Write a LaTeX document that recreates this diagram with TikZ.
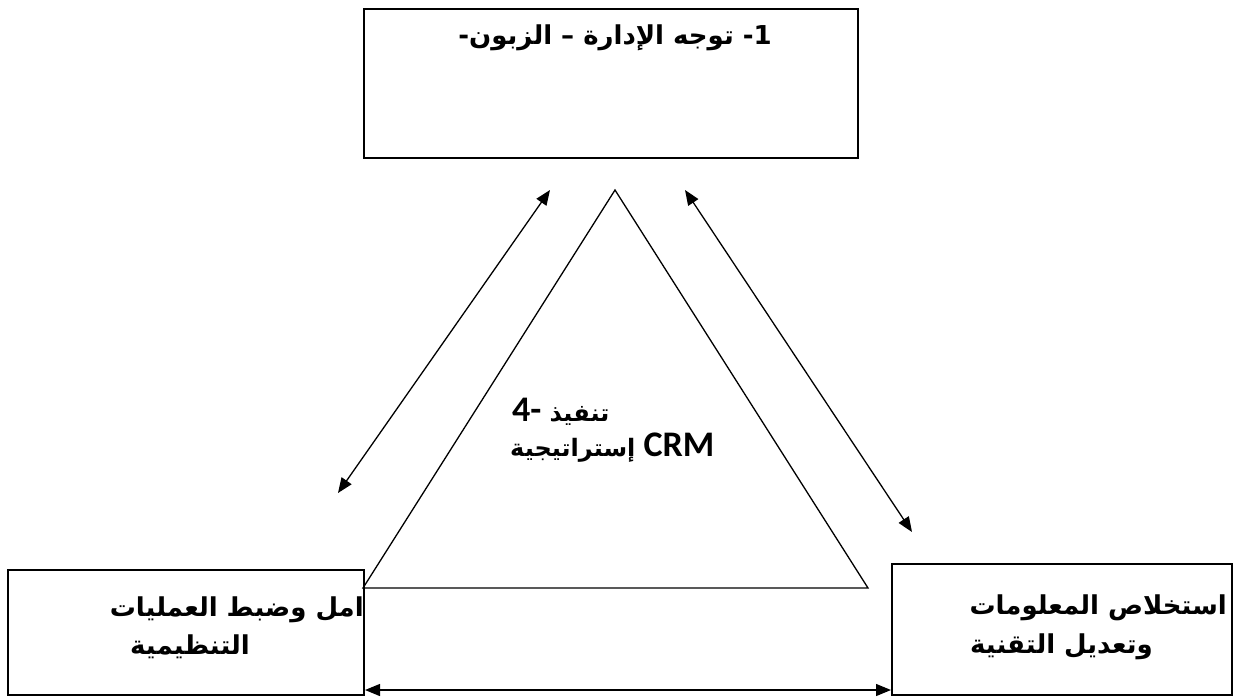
\documentclass[tikz,border=0pt]{standalone}
\usepackage{fontspec}
\usetikzlibrary{arrows.meta}
\TeXXeTstate=1
\newfontfamily\arfont[Script=Arabic]{DejaVu Sans}
\newfontfamily\carl{Carlito}
\newcommand{\arbig}{\arfont\bfseries\fontsize{26}{30}\selectfont}
\newcommand{\armid}{\arfont\bfseries\fontsize{24}{28}\selectfont}
\begin{document}
\begin{tikzpicture}[x=1pt,y=-1pt,
  box/.style={draw, line width=2pt, inner sep=0pt, anchor=north west},
  link/.style={line width=1.3pt, {Triangle[length=15pt,width=12pt]}-{Triangle[length=15pt,width=12pt]}},
  tri/.style={line width=1.3pt, line join=miter},
  lbl/.style={font=\arbig, inner sep=0pt},
  clbl/.style={font=\carl\bfseries\fontsize{36}{40}\selectfont, inner sep=0pt}]
\useasboundingbox (0,0) rectangle (1236,697);
% boxes
\node[box, minimum width=494pt, minimum height=149pt] (top) at (363,8) {};
\node[box, minimum width=356pt, minimum height=125pt] (lbox) at (7,569) {};
\node[box, minimum width=340pt, minimum height=131pt] (rbox) at (891,563) {};
% triangle
\coordinate (apex) at (615,190);
\coordinate (tl) at (363,588);
\coordinate (tr) at (868,588);
\draw[tri] (apex) -- (tl) -- (tr) -- cycle;
% arrows
\coordinate (a1) at (550,190);
\coordinate (a2) at (338,493);
\coordinate (b1) at (685,190);
\coordinate (b2) at (912,532);
\coordinate (ya) at (0,690);
\draw[link] (a1) -- (a2);
\draw[link] (b1) -- (b2);
\draw[link] (lbox.east |- ya) -- (rbox.west |- ya);
% texts
\node[lbl] (ttop) at (615,38) {\beginR 1\kern0pt- توجه الإدارة – الزبون\kern0pt-\endR};
\node[lbl, anchor=east] (tl1) at (364,610) {\beginR امل وضبط العمليات\endR};
\node[lbl, anchor=west] (tl2) at (130,647) {\beginR التنظيمية\endR};
\node[lbl, anchor=east] (tr1) at (1227,608) {\beginR استخلاص المعلومات\endR};
\node[lbl, anchor=west] (tr2) at (970,647) {\beginR وتعديل التقنية\endR};
\node[clbl, anchor=west] (tc1) at (512,412) {4- {\armid تنفيذ}};
\node[clbl, anchor=west] (tc2) at (510,448) {{\armid إستراتيجية} CRM};
\end{tikzpicture}
\end{document}
